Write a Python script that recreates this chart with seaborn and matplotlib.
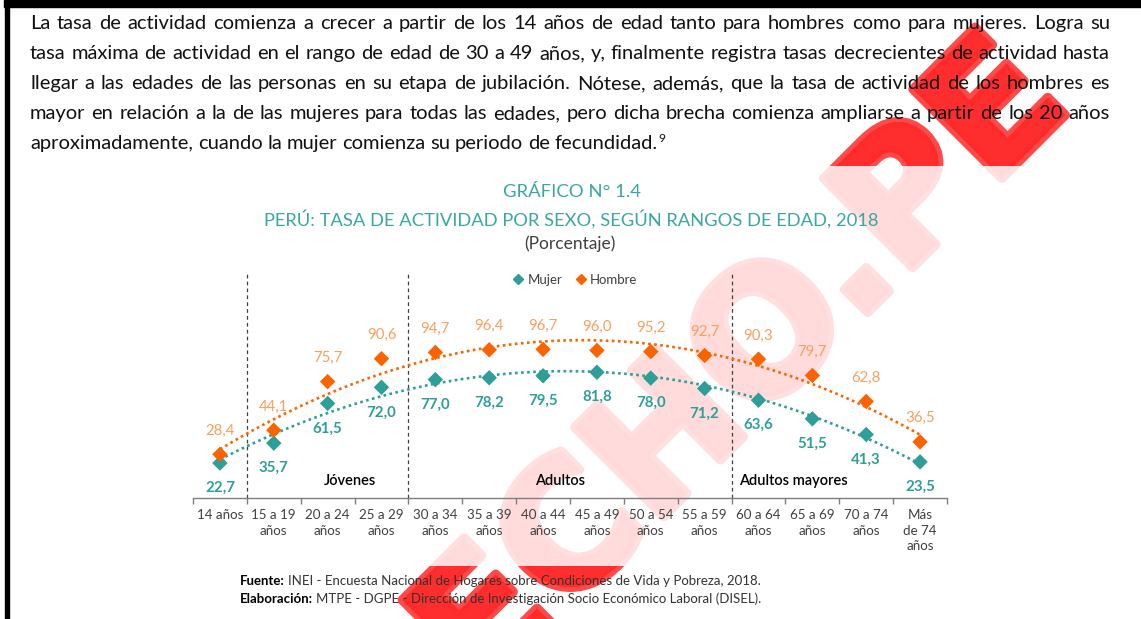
import numpy as np
import pandas as pd
import seaborn as sns
import matplotlib.pyplot as plt
import matplotlib.patheffects as pe
from matplotlib.patches import Rectangle
from matplotlib.lines import Line2D

# datos del gráfico
edades = ["14 años", "15 a 19\naños", "20 a 24\naños", "25 a 29\naños", "30 a 34\naños",
          "35 a 39\naños", "40 a 44\naños", "45 a 49\naños", "50 a 54\naños", "55 a 59\naños",
          "60 a 64\naños", "65 a 69\naños", "70 a 74\naños", "Más\nde 74\naños"]
mujer = [22.7, 35.7, 61.5, 72.0, 77.0, 78.2, 79.5, 81.8, 78.0, 71.2, 63.6, 51.5, 41.3, 23.5]
hombre = [28.4, 44.1, 75.7, 90.6, 94.7, 96.4, 96.7, 96.0, 95.2, 92.7, 90.3, 79.7, 62.8, 36.5]
grupos = ["Jóvenes", "Adultos", "Adultos mayores"]
grupos_x = [2.42, 6.31, 10.64]
cortes = [0.5, 3.5, 9.5]

parrafo = [
    "La tasa de actividad comienza a crecer a partir de los 14 años de edad tanto para hombres como para mujeres. Logra su",
    "tasa máxima de actividad en el rango de edad de 30 a 49 años, y, finalmente registra tasas decrecientes de actividad hasta",
    "llegar a las edades de las personas en su etapa de jubilación. Nótese, además, que la tasa de actividad de los hombres es",
    "mayor en relación a la de las mujeres para todas las edades, pero dicha brecha comienza ampliarse a partir de los 20 años",
    "aproximadamente, cuando la mujer comienza su periodo de fecundidad.",
]

teal = "#2E9E98"
orange = "#FA6400"
orange_txt = "#F7A060"
title_teal = "#3BA7A1"

df = pd.DataFrame({
    "pos": list(range(len(edades))) * 2,
    "valor": mujer + hombre,
    "sexo": ["Mujer"] * len(mujer) + ["Hombre"] * len(hombre),
})

sns.set_theme(style="white")
plt.rcParams["font.family"] = ["Lato", "DejaVu Sans"]

fig = plt.figure(figsize=(11.41, 6.19), dpi=100)
renderer = fig.canvas.get_renderer()

# capa de página en coordenadas de pixel
page = fig.add_axes([0, 0, 1, 1])
page.set_xlim(0, 1141)
page.set_ylim(619, 0)
page.axis("off")


def width_of(t):
    return t.get_window_extent(renderer).width


# marca de agua
wm_color = "#FF2A2A"
page.text(480, 700, "ECHO.PE", rotation=45, rotation_mode="anchor", ha="left", va="baseline",
          fontsize=124, fontweight="bold", family="DejaVu Sans", color=wm_color, alpha=0.85, zorder=0,
          path_effects=[pe.withStroke(linewidth=7, foreground=wm_color)])
page.add_patch(Rectangle((185, 166), 956, 400, facecolor="white", alpha=0.83, edgecolor="none", zorder=1))

# bordes de la captura
page.add_patch(Rectangle((4, 0), 1137, 6.5, color="black", zorder=5))
page.add_patch(Rectangle((4.5, 0), 4, 619, color="black", zorder=5))

# párrafo justificado
size = 12.5
longest = 0
for line in parrafo[:-1]:
    t = page.text(0, 0, line, fontsize=size)
    longest = max(longest, width_of(t))
    t.remove()
size = size * 1074 / longest

x0, x1 = 30, 1110
for i, line in enumerate(parrafo):
    y = 29 + 30 * i
    words = line.split()
    arts = [page.text(0, y, w, fontsize=size, va="baseline", color="#111111", zorder=3) for w in words]
    widths = [width_of(a) for a in arts]
    if i < len(parrafo) - 1:
        gap = (x1 - x0 - sum(widths)) / (len(words) - 1)
    else:
        gap = size * 100 / 72 * 0.24
    x = x0
    for a, w in zip(arts, widths):
        a.set_x(x)
        x += w + gap
    if i == len(parrafo) - 1:
        page.text(x - gap + 1, y - 7, "9", fontsize=size * 0.6, va="baseline", color="#111111", zorder=3)

# títulos
page.text(572, 192, "GRÁFICO N° 1.4", ha="center", va="center", fontsize=13.3, color=title_teal, zorder=3)
page.text(571, 219, "PERÚ: TASA DE ACTIVIDAD POR SEXO, SEGÚN RANGOS DE EDAD, 2018", ha="center", va="center",
          fontsize=13.2, color=title_teal, zorder=3)
page.text(570, 244, "(Porcentaje)", ha="center", va="center", fontsize=12.5, color="#404040", zorder=3)

# fuente
for y, label, rest in [(585, "Fuente:", "INEI - Encuesta Nacional de Hogares sobre Condiciones de Vida y Pobreza, 2018."),
                       (603, "Elaboración:", "MTPE - DGPE - Dirección de Investigación Socio Económico Laboral (DISEL).")]:
    b = page.text(240, y, label, fontsize=9.5, fontweight="bold", color="black", va="baseline", zorder=3)
    page.text(240 + width_of(b) + 3.5, y, rest, fontsize=9.5, color="#333333", va="baseline", zorder=3)

# gráfico
ax = fig.add_axes([193 / 1141, (619 - 498) / 619, 754 / 1141, 226 / 619])
ax.patch.set_alpha(0)

for sexo, color in [("Mujer", teal), ("Hombre", orange)]:
    sns.regplot(data=df[df["sexo"] == sexo], x="pos", y="valor", order=2, ci=None, scatter=False, ax=ax,
                line_kws=dict(color=color, lw=1.9, ls=(0, (1, 1.3))))

sns.scatterplot(data=df, x="pos", y="valor", hue="sexo", hue_order=["Mujer", "Hombre"],
                palette=[teal, orange], marker="D", s=62, linewidth=0, ax=ax, zorder=4, legend=False)

for i, v in enumerate(hombre):
    ax.annotate(f"{v:.1f}".replace(".", ","), (i, v), xytext=(0, 17), textcoords="offset points",
                ha="center", va="center", fontsize=10.8, color=orange_txt)
for i, v in enumerate(mujer):
    ax.annotate(f"{v:.1f}".replace(".", ","), (i, v), xytext=(0, -18), textcoords="offset points",
                ha="center", va="center", fontsize=10.8, fontweight="bold", color=teal)

for c in cortes:
    ax.axvline(c, color="#404040", lw=0.9, ls=(0, (3, 2.5)), zorder=1)

for g, gx in zip(grupos, grupos_x):
    ax.text(gx, 11, g, ha="center", va="center", fontsize=10.5, fontweight="semibold", color="black")

ax.set_xlim(-0.5, len(edades) - 0.5)
ax.set_ylim(0, 147)
ax.set_xticks(range(len(edades)))
ax.set_xticklabels(edades, fontsize=9.6, color="#404040", linespacing=1.35, va="top")
ax.set_xticks(np.arange(-0.5, len(edades)), minor=True)
ax.tick_params(axis="x", which="major", length=0, pad=8)
ax.tick_params(axis="x", which="minor", length=4, width=1, color="#7F7F7F", direction="out", bottom=True)
ax.set_yticks([])
ax.set_xlabel("")
ax.set_ylabel("")
sns.despine(ax=ax, left=True)
ax.spines["bottom"].set_color("#7F7F7F")
ax.spines["bottom"].set_linewidth(1)

handles = [Line2D([], [], marker="D", color=c, ls="none", markersize=5) for c in (teal, orange)]
ax.legend(handles, ["Mujer", "Hombre"], loc="center", bbox_to_anchor=(0.507, 0.965), ncol=2, frameon=False,
          fontsize=9.5, handletextpad=0.3, columnspacing=1.0, handlelength=0.8, labelcolor="#404040")

fig.savefig("out.png", dpi=100)
